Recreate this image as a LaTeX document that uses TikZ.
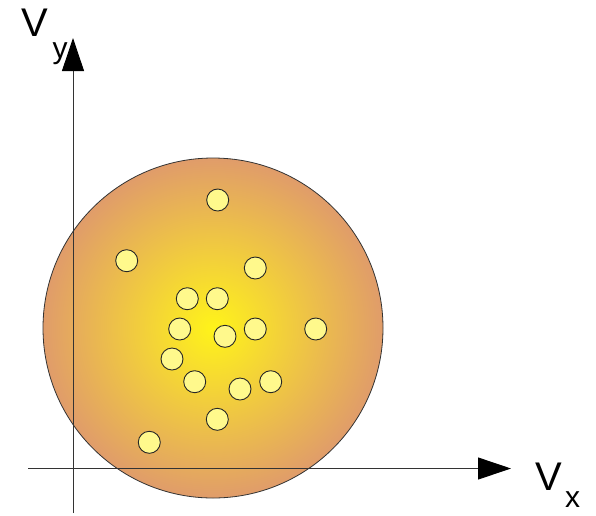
\documentclass[tikz,border=0pt]{standalone}
\usepackage{fontspec}
\setmainfont{Liberation Sans}
\usetikzlibrary{arrows.meta}

\tikzset{
  axis/.style={line width=0.9pt, draw=black!80, -{Triangle[length=33pt, width=22pt, color=black]}},
  particle/.style={circle, draw=black!85, line width=0.9pt, fill=yellow!45, minimum size=22pt, inner sep=0pt},
  biglabel/.style={inner sep=0pt, font=\fontsize{40}{40}\selectfont},
  sublabel/.style={inner sep=0pt, font=\fontsize{30}{30}\selectfont}
}

\begin{document}
\begin{tikzpicture}[x=1pt, y=-1pt]
\useasboundingbox (0,0) rectangle (596,515);

% velocity distribution
\shade[inner color=yellow!90!orange!90, outer color={rgb,255:red,224;green,156;blue,106}, draw=black!80, line width=0.8pt] (213,328) circle (170);

% axes
\coordinate (vybottom) at (73,513);
\coordinate (vytop) at (73,38);
\coordinate (vxleft) at (28,468.5);
\coordinate (vxright) at (511,468.5);
\draw[axis] (vybottom) -- (vytop);
\draw[axis] (vxleft) -- (vxright);

\node[biglabel] (vy) at (35,22.5) {V};
\node[sublabel] (vysub) at (60,53.5) {y};
\node[biglabel] (vx) at (549,477) {V};
\node[sublabel] (vxsub) at (572.5,500) {x};

% particles
\foreach \px/\py [count=\i] in {217.7/200, 126.7/260.7, 255.3/268, 187.3/298.7, 217.3/298.7,
    179.7/329, 225/336.3, 255.3/329, 315.7/329, 172/359,
    194.7/381.7, 240/389, 270.7/381.7, 217.3/419.3, 149.3/442.3}
  \node[particle] (p\i) at (\px,\py) {};
\end{tikzpicture}
\end{document}
